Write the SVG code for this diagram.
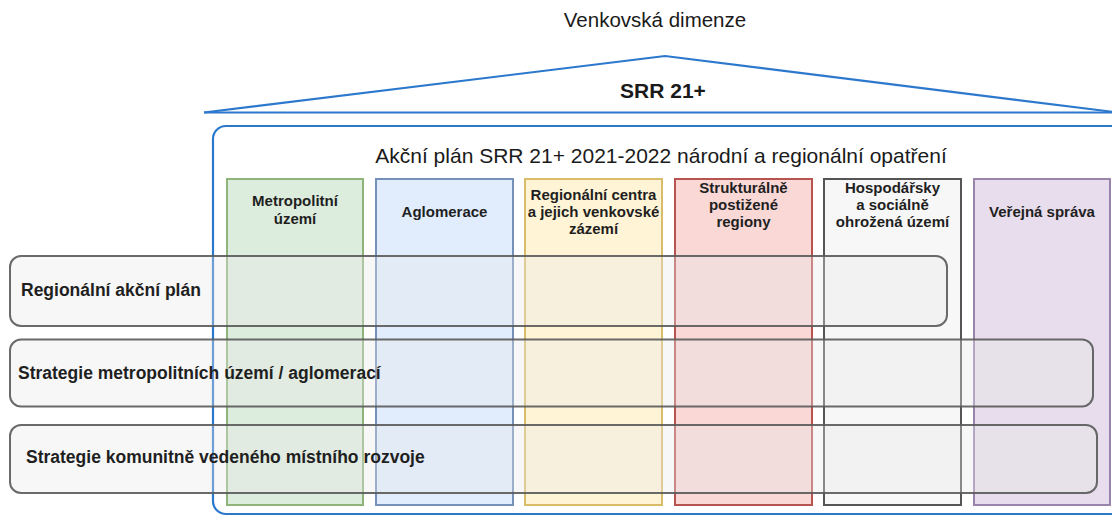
<svg xmlns="http://www.w3.org/2000/svg" width="1112" height="516" viewBox="0 0 1112 516">
<style>
.t{font-family:"Liberation Sans",Arial,sans-serif;fill:#1a1a1a}
.cb{font-family:"Liberation Sans",Arial,sans-serif;font-weight:bold;font-size:15px;fill:#1f1f1f;text-anchor:middle}
.rb{font-family:"Liberation Sans",Arial,sans-serif;font-weight:bold;font-size:17.5px;fill:#1f1f1f}
.blue{fill:none;stroke:#2b78cc;stroke-width:2.2}
.row{fill:#e8e8e8;fill-opacity:0.35;stroke:#5a5a5a;stroke-width:2;stroke-opacity:0.9}
.col{fill-opacity:0.8;stroke-width:2}
</style>
<rect width="1112" height="516" fill="#ffffff"/>
<g id="venkovska">
<text class="t" x="655" y="27" font-size="20.5" text-anchor="middle">Venkovská dimenze</text>
</g>
<g id="srr">
<polyline class="blue" points="204,112.5 665,56 1118,112.5"/>
<line class="blue" x1="204" y1="112.5" x2="1112" y2="112.5"/>
<text class="t" x="663" y="98" font-size="21" font-weight="bold" text-anchor="middle">SRR 21+</text>
</g>
<g id="akcni-plan">
<rect class="blue" x="213" y="126" width="920" height="388" rx="13"/>
<text class="t" x="661" y="163" font-size="21" text-anchor="middle">Akční plán SRR 21+ 2021-2022 národní a regionální opatření</text>
</g>
<g id="col-metropolitni">
<rect class="col" x="227" y="179" width="136" height="326" fill="#d5e8d4" stroke="#8fb47a"/>
<text class="cb" x="295" y="206">Metropolitní</text>
<text class="cb" x="295" y="224">území</text>
</g>
<g id="col-aglomerace">
<rect class="col" x="376" y="179" width="137" height="326" fill="#dae8fc" stroke="#7590bb"/>
<text class="cb" x="444.5" y="217">Aglomerace</text>
</g>
<g id="col-regionalni-centra">
<rect class="col" x="525" y="179" width="137" height="326" fill="#fff2cc" stroke="#d9bc6a"/>
<text class="cb" x="593.5" y="200">Regionální centra</text>
<text class="cb" x="593.5" y="217">a jejich venkovské</text>
<text class="cb" x="593.5" y="234">zázemí</text>
</g>
<g id="col-strukturalne">
<rect class="col" x="675" y="179" width="137" height="326" fill="#f8cecc" stroke="#b85450"/>
<text class="cb" x="743.5" y="193">Strukturálně</text>
<text class="cb" x="743.5" y="210">postižené</text>
<text class="cb" x="743.5" y="227">regiony</text>
</g>
<g id="col-hospodarsky">
<rect class="col" x="824" y="179" width="137" height="326" fill="#f5f5f5" stroke="#555555"/>
<text class="cb" x="892.5" y="193">Hospodářsky</text>
<text class="cb" x="892.5" y="210">a sociálně</text>
<text class="cb" x="892.5" y="227">ohrožená území</text>
</g>
<g id="col-verejna-sprava">
<rect class="col" x="974" y="179" width="136" height="326" fill="#e1d5e7" stroke="#9a84ac"/>
<text class="cb" x="1042" y="217">Veřejná správa</text>
</g>
<g id="row-regionalni-akcni-plan">
<rect class="row" x="10" y="256" width="937" height="70" rx="11"/>
<text class="rb" x="21" y="296">Regionální akční plán</text>
</g>
<g id="row-strategie-metropolitnich">
<rect class="row" x="10" y="339.5" width="1083" height="67" rx="11"/>
<text class="rb" x="18" y="379">Strategie metropolitních území / aglomerací</text>
</g>
<g id="row-strategie-komunitne">
<rect class="row" x="10" y="425" width="1087" height="68" rx="11"/>
<text class="rb" x="26" y="463">Strategie komunitně vedeného místního rozvoje</text>
</g>
<g id="connectors"/>
</svg>
